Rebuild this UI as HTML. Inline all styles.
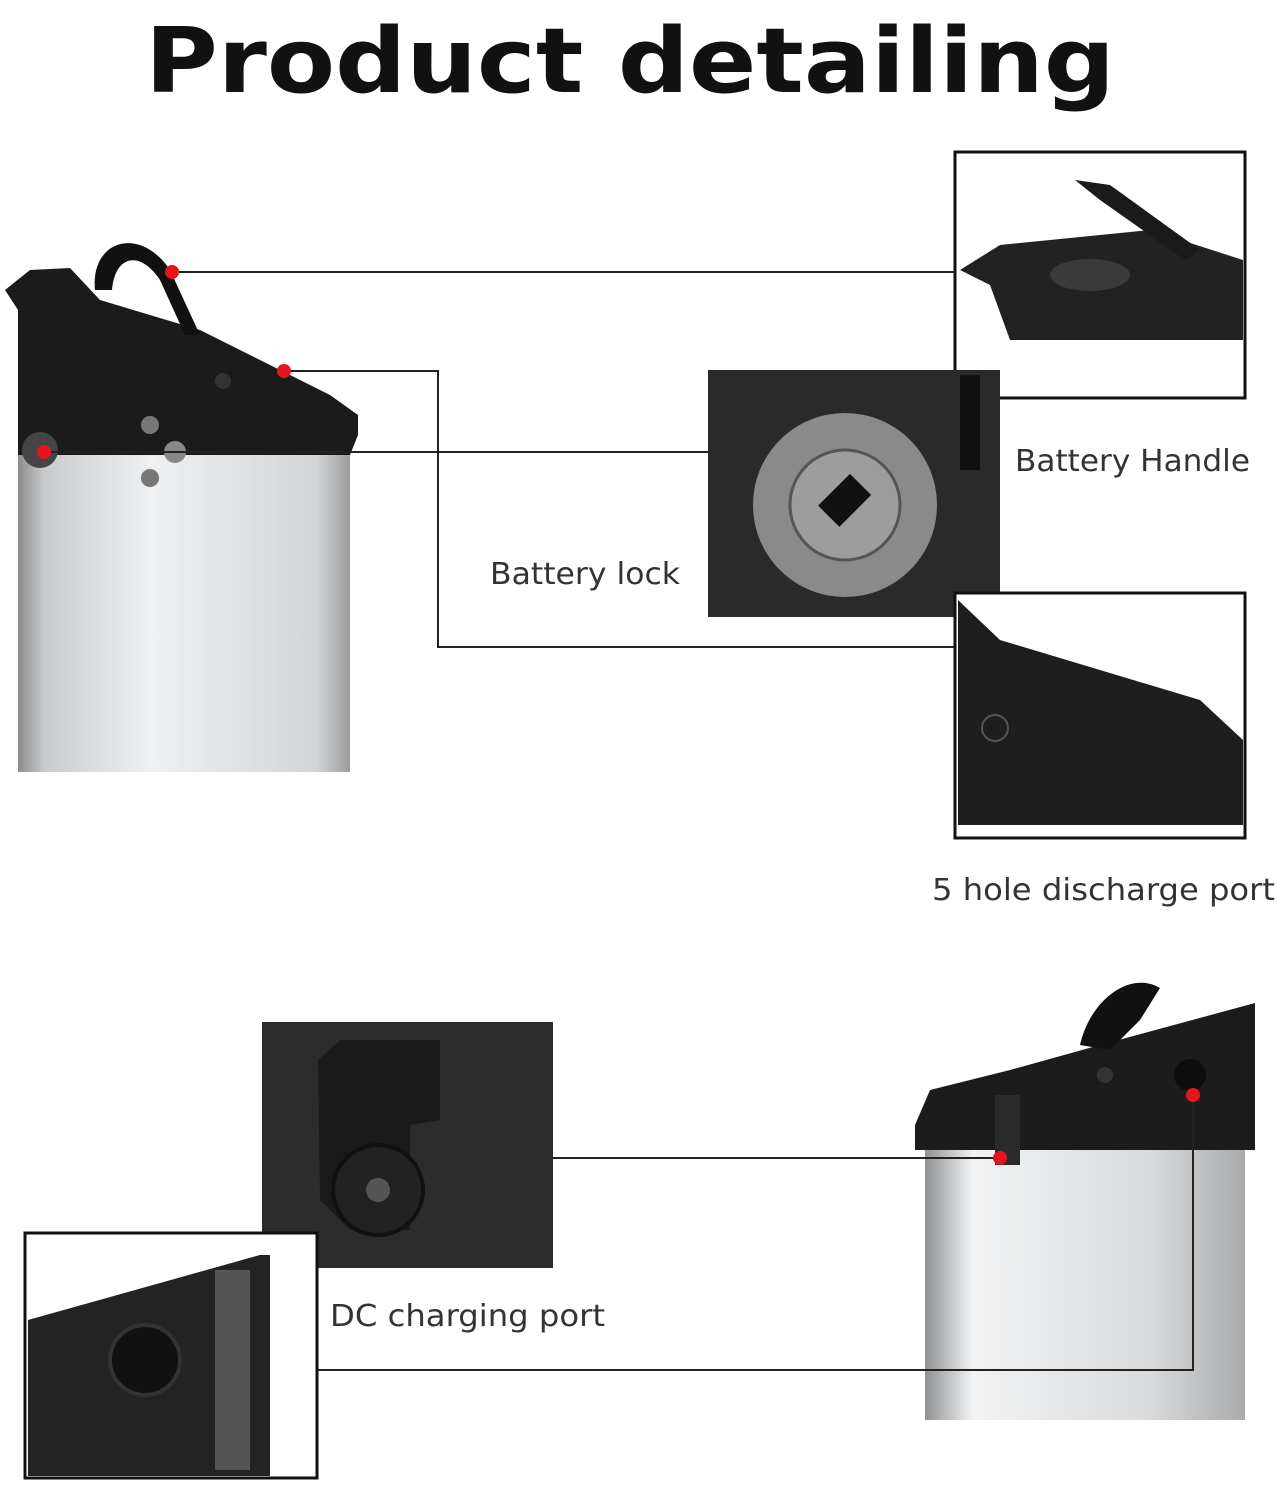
<!DOCTYPE html>
<html><head><meta charset="utf-8"><style>
html,body{margin:0;padding:0;background:#fff;width:1278px;height:1487px;overflow:hidden}
svg{display:block}
text{font-family:"DejaVu Sans","Liberation Sans",sans-serif}
</style></head><body>
<svg width="1278" height="1487" viewBox="0 0 1278 1487" xmlns="http://www.w3.org/2000/svg">
<defs>
<linearGradient id="silv" x1="0" x2="1" y1="0" y2="0">
<stop offset="0" stop-color="#8a8c8e"/><stop offset="0.08" stop-color="#c9cbcd"/><stop offset="0.4" stop-color="#eef0f2"/><stop offset="0.9" stop-color="#d2d4d6"/><stop offset="1" stop-color="#9a9c9e"/></linearGradient>
<linearGradient id="silv2" x1="0" x2="1" y1="0" y2="0">
<stop offset="0" stop-color="#8f9193"/><stop offset="0.15" stop-color="#f2f3f4"/><stop offset="0.7" stop-color="#d8dadc"/><stop offset="1" stop-color="#a8aaac"/></linearGradient>
</defs>
<text x="145" y="92" font-size="90" font-weight="bold" fill="#111" textLength="970" lengthAdjust="spacingAndGlyphs">Product detailing</text>

<!-- left battery -->
<rect x="18" y="455" width="332" height="317" fill="url(#silv)"/>
<path d="M5,290 L30,270 L70,268 L100,300 L200,330 L330,395 L358,415 L358,435 L350,455 L18,455 L18,310 Z" fill="#1b1b1b"/>
<path d="M95,290 C90,240 140,225 170,270 L200,335 L185,335 L160,280 C140,250 115,255 112,290 Z" fill="#111"/>
<circle cx="40" cy="450" r="18" fill="#444"/>
<circle cx="150" cy="425" r="9" fill="#777"/><circle cx="175" cy="452" r="11" fill="#888"/><circle cx="150" cy="478" r="9" fill="#777"/>
<circle cx="223" cy="381" r="8" fill="#333"/>

<!-- right battery -->
<rect x="925" y="1150" width="320" height="270" fill="url(#silv2)"/>
<path d="M915,1125 L930,1090 L1010,1070 L1100,1045 L1255,1003 L1255,1150 L915,1150 Z" fill="#1c1c1c"/>
<path d="M1080,1045 C1090,1000 1130,970 1160,988 L1140,1020 L1110,1050 Z" fill="#111"/>
<circle cx="1105" cy="1075" r="8" fill="#333"/>
<circle cx="1190" cy="1075" r="16" fill="#0d0d0d"/>
<rect x="995" y="1095" width="25" height="70" fill="#2a2a2a"/>

<!-- connector lines -->
<g stroke="#222" stroke-width="2" fill="none">
<path d="M172,272 L955,272"/>
<path d="M284,371 L438,371 L438,647 L955,647"/>
<path d="M44,452 L708,452"/>
<path d="M553,1158 L1000,1158"/>
<path d="M1193,1095 L1193,1370 L317,1370"/>
</g>
<g fill="#e8141a"><circle cx="172" cy="272" r="7"/><circle cx="284" cy="371" r="7"/><circle cx="44" cy="452" r="7"/><circle cx="1000" cy="1158" r="7"/><circle cx="1193" cy="1095" r="7"/></g>

<!-- handle box -->
<rect x="955" y="152" width="290" height="246" fill="#fff" stroke="#111" stroke-width="3"/>
<path d="M960,270 L1000,245 L1150,230 L1243,260 L1243,340 L1010,340 L990,285 Z" fill="#222"/>
<path d="M1075,180 L1110,185 L1200,250 L1185,260 L1100,200 Z" fill="#1a1a1a"/>
<ellipse cx="1090" cy="275" rx="40" ry="16" fill="#3a3a3a"/>

<!-- lock box -->
<rect x="708" y="370" width="292" height="247" fill="#2a2a2a"/>
<circle cx="845" cy="505" r="92" fill="#8a8a8a"/>
<circle cx="845" cy="505" r="55" fill="#9d9d9d" stroke="#555" stroke-width="3"/>
<rect x="822" y="485" width="45" height="30" fill="#111" transform="rotate(-45 845 500)"/>
<rect x="960" y="375" width="20" height="95" fill="#111"/>

<!-- discharge box -->
<rect x="955" y="593" width="290" height="245" fill="#fff" stroke="#111" stroke-width="3"/>
<path d="M958,600 L1000,640 L1200,700 L1243,740 L1243,825 L958,825 Z" fill="#1e1e1e"/>
<circle cx="995" cy="728" r="13" fill="none" stroke="#555" stroke-width="2"/>

<text x="1015" y="471" font-size="30" fill="#333" textLength="235" lengthAdjust="spacingAndGlyphs">Battery Handle</text>
<text x="490" y="584" font-size="30" fill="#333" textLength="190" lengthAdjust="spacingAndGlyphs">Battery lock</text>
<text x="932" y="900" font-size="30" fill="#333" textLength="343" lengthAdjust="spacingAndGlyphs">5 hole discharge port</text>

<!-- DC box -->
<rect x="262" y="1022" width="291" height="246" fill="#2c2c2c"/>
<path d="M318,1060 L340,1040 L440,1040 L440,1120 L410,1125 L410,1230 L350,1230 L320,1200 Z" fill="#1a1a1a"/>
<circle cx="378" cy="1190" r="45" fill="#222" stroke="#111" stroke-width="4"/>
<circle cx="378" cy="1190" r="12" fill="#555"/>

<!-- small box -->
<rect x="25" y="1233" width="292" height="245" fill="#fff" stroke="#111" stroke-width="3"/>
<path d="M28,1320 L260,1255 L270,1255 L270,1476 L28,1476 Z" fill="#232323"/>
<rect x="215" y="1270" width="35" height="200" fill="#555"/>
<circle cx="145" cy="1360" r="35" fill="#111" stroke="#333" stroke-width="4"/>

<text x="330" y="1326" font-size="30" fill="#333" textLength="275" lengthAdjust="spacingAndGlyphs">DC charging port</text>
</svg>
</body></html>
